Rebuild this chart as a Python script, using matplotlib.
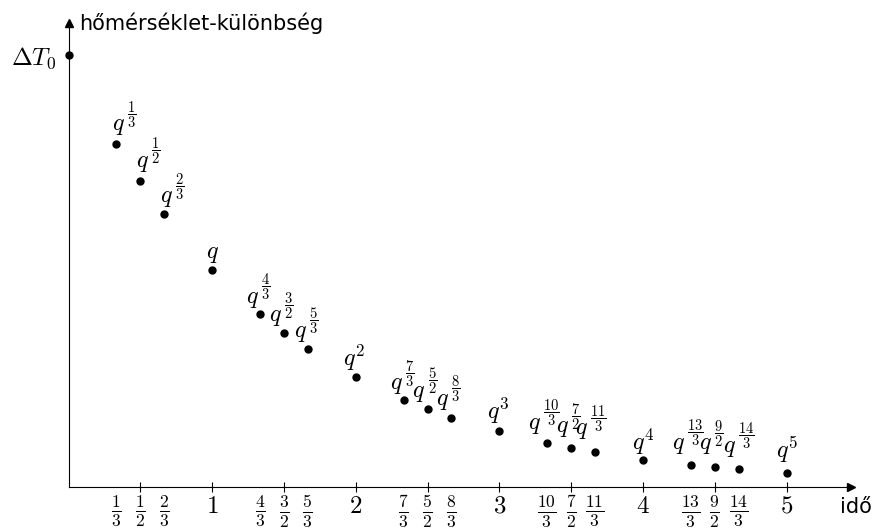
import matplotlib.pyplot as plt

plt.rcParams['mathtext.fontset'] = 'cm'
plt.rcParams['font.family'] = ['DejaVu Sans']

# time points (idő) and temperature difference, in units of dT0
times = [1/3, 1/2, 2/3, 1, 4/3, 3/2, 5/3, 2, 7/3, 5/2, 8/3, 3,
         10/3, 7/2, 11/3, 4, 13/3, 9/2, 14/3, 5]
temps = [0.793, 0.708, 0.631, 0.501, 0.399, 0.355, 0.318, 0.253, 0.200, 0.179,
         0.160, 0.128, 0.102, 0.090, 0.081, 0.063, 0.051, 0.046, 0.042, 0.032]
start_temp = 1.0

# exponent of q for each point ('' = q itself)
exponents = [r'\dfrac{1}{3}', r'\dfrac{1}{2}', r'\dfrac{2}{3}', '', r'\dfrac{4}{3}',
             r'\dfrac{3}{2}', r'\dfrac{5}{3}', '2', r'\dfrac{7}{3}', r'\dfrac{5}{2}',
             r'\dfrac{8}{3}', '3', r'\dfrac{10}{3}', r'\dfrac{7}{2}', r'\dfrac{11}{3}',
             '4', r'\dfrac{13}{3}', r'\dfrac{9}{2}', r'\dfrac{14}{3}', '5']
tick_labels = [r'$\frac{1}{3}$', r'$\frac{1}{2}$', r'$\frac{2}{3}$', '$1$',
               r'$\frac{4}{3}$', r'$\frac{3}{2}$', r'$\frac{5}{3}$', '$2$',
               r'$\frac{7}{3}$', r'$\frac{5}{2}$', r'$\frac{8}{3}$', '$3$',
               r'$\frac{10}{3}$', r'$\frac{7}{2}$', r'$\frac{11}{3}$', '$4$',
               r'$\frac{13}{3}$', r'$\frac{9}{2}$', r'$\frac{14}{3}$', '$5$']

# label placement relative to each point (pixels): left edge of q, gap under q
label_dx = [-4.5, -4, -4, -6, -14, -15, -14, -13, -14, -15,
            -15, -12, -19, -15, -20, -11, -19, -16, -16, -11]
label_gap = [12, 12, 10, 10.5, 9.5, 10, 10.5, 9, 9, 10.5,
             10.5, 10.5, 12, 13.5, 15.5, 8, 14, 15.5, 14.5, 13]
desc_pad = 5   # mathtext box reaches below the ink of q

fig = plt.figure(figsize=(8.77, 5.30), dpi=100)
W, H = 877, 530
x0, y0 = 68.5, 486.7     # axis origin in pixels
x1, y1 = 851, 23         # axis ends
ax = fig.add_axes([x0 / W, (H - y0) / H, (x1 - x0) / W, (y0 - y1) / H])
ax.set_xlim(0, (x1 - x0) / 143.6)
ax.set_ylim(0, (y0 - y1) / 431.7)

for s in ['top', 'right']:
    ax.spines[s].set_visible(False)
for s in ['left', 'bottom']:
    ax.spines[s].set_linewidth(0.8)

# arrow heads
ax.plot(1, 0, '>', color='black', ms=6, transform=ax.transAxes, clip_on=False)
ax.plot(0, 1, '^', color='black', ms=6, transform=ax.transAxes, clip_on=False)

# points
ax.plot([0], [start_temp], 'o', color='black', ms=5, clip_on=False)
ax.plot(times, temps, 'o', color='black', ms=5, clip_on=False)

for t, v, e, dx, gap in zip(times, temps, exponents, label_dx, label_gap):
    dy = gap - desc_pad
    if e.startswith(r'\dfrac'):
        # fractional exponent: q plus a raised fraction
        ax.annotate('$q$', xy=(t, v), xytext=(dx, dy), textcoords='offset pixels',
                    ha='left', va='bottom', fontsize=17.5)
        ax.annotate('$%s$' % e, xy=(t, v), xytext=(dx + 15, gap + 18),
                    textcoords='offset pixels', ha='left', va='center',
                    fontsize=10.5)
    else:
        lab = r'$q^{%s}$' % e if e else r'$q$'
        ax.annotate(lab, xy=(t, v), xytext=(dx, dy), textcoords='offset pixels',
                    ha='left', va='bottom', fontsize=17.5)

# tick marks at halves, labels at every time point
half_ticks = [t for t in times if abs(2 * t - round(2 * t)) < 1e-9]
ax.xaxis.remove_overlapping_locs = False
ax.set_xticks(half_ticks)
ax.tick_params(axis='x', which='major', direction='inout', length=7, width=0.8,
               labelbottom=False)
ax.set_xticks(times, tick_labels, minor=True)
ax.tick_params(axis='x', which='minor', length=0, pad=5, labelsize=18)

ax.set_yticks([start_temp], [r'$\Delta T_0$'])
ax.tick_params(axis='y', length=0, pad=9, labelsize=18)

ax.annotate('hőmérséklet-különbség', xy=(0, 1), xycoords='axes fraction',
            xytext=(11, 0), textcoords='offset pixels', ha='left', va='center',
            fontsize=15)
ax.annotate('idő', xy=(1, 0), xycoords='axes fraction',
            xytext=(5, -10), textcoords='offset pixels', ha='center', va='top',
            fontsize=15)

fig.savefig('out.png', dpi=100)
